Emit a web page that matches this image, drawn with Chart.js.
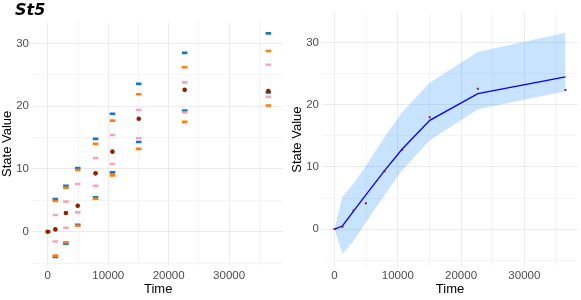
<!DOCTYPE html>
<html><head><meta charset="utf-8">
<script src="https://cdn.jsdelivr.net/npm/chart.js@4.4.1/dist/chart.umd.min.js"></script>
<style>
html,body{margin:0;padding:0;background:#fff;width:581px;height:300px;overflow:hidden;position:relative}
#title{position:absolute;left:15px;top:0px;font:italic bold 16px "DejaVu Sans";color:#000;line-height:19px}
#cl{position:absolute;left:0;top:0}
#cr{position:absolute;left:290px;top:0}
</style></head><body>
<canvas id="cl" width="290" height="300"></canvas>
<canvas id="cr" width="291" height="300"></canvas>
<div id="title">St5</div>
<script>
const times = [0, 1250, 3000, 4950, 7900, 10700, 15050, 22650, 36500];
const observed = [0, 0.37, 2.98, 4.15, 9.3, 12.76, 18.0, 22.6, 22.4];
const meanPred = [0, 0.5, 2.9, 5.5, 9.4, 12.9, 17.5, 21.8, 24.5];
const blueHi = [0, 5.2, 7.3, 10.15, 14.8, 18.8, 23.55, 28.5, 31.6];
const blueLo = [0, -4.0, -1.9, 1.1, 5.5, 9.46, 14.3, 19.3, 22.2];
const orangeHi = [0, 4.9, 7.0, 9.84, 14.0, 17.7, 21.9, 26.2, 28.8];
const orangeLo = [0, -3.8, -1.7, 0.95, 5.26, 8.98, 13.2, 17.5, 20.1];
const pinkHi = [0, 2.66, 4.8, 7.6, 11.75, 15.4, 19.4, 23.8, 26.6];
const pinkLo = [0, -1.55, 0.64, 3.08, 7.3, 10.8, 14.9, 19.0, 21.5];
const xTickLabels = [0, 10000, 20000, 30000];
const yTickLabels = [0, 10, 20, 30];

const pts = arr => times.map((t, i) => ({x: t, y: arr[i]}));
const FONT = '"Liberation Sans", Arial, sans-serif';

function gridTicks(lo, hi, step) {
  const out = [];
  for (let v = Math.ceil(lo / step) * step; v <= hi; v += step) out.push({value: v});
  return out;
}

function makeScales(xmin, xmax, ymin, ymax, yW, xH, xPad) {
  return {
    x: {
      type: 'linear', min: xmin, max: xmax,
      afterBuildTicks: s => { s.ticks = gridTicks(xmin, xmax, 5000); },
      afterFit: s => { s.height = xH; },
      grid: {drawTicks: false, lineWidth: 1,
        color: c => xTickLabels.includes(c.tick.value) ? '#EBEBEB' : '#F4F4F4'},
      border: {display: false},
      ticks: {autoSkip: false, maxRotation: 0, padding: xPad, color: '#4D4D4D',
        font: {family: FONT, size: 11.5},
        callback: v => xTickLabels.includes(v) ? String(v) : ''},
      title: {display: true, text: 'Time', color: '#000',
        font: {family: FONT, size: 13}, padding: {top: 0, bottom: 3}}
    },
    y: {
      type: 'linear', min: ymin, max: ymax,
      afterBuildTicks: s => { s.ticks = gridTicks(ymin, ymax, 5); },
      afterFit: s => { s.width = yW; },
      grid: {drawTicks: false, lineWidth: 1,
        color: c => yTickLabels.includes(c.tick.value) ? '#EBEBEB' : '#F4F4F4'},
      border: {display: false},
      ticks: {autoSkip: false, padding: 4, color: '#4D4D4D',
        font: {family: FONT, size: 11.5},
        callback: v => yTickLabels.includes(v) ? String(v) : ''},
      title: {display: true, text: 'State Value', color: '#000',
        font: {family: FONT, size: 13}, padding: {top: 0, bottom: 0}}
    }
  };
}

const dash = (data, color, order) => ({
  data: pts(data), order, pointStyle: 'line', pointRadius: 2.8,
  pointBorderColor: color, pointBorderWidth: 2.6, pointBackgroundColor: color,
  showLine: false
});

new Chart(document.getElementById('cl'), {
  type: 'scatter',
  data: {datasets: [
    {data: pts(observed), order: 0, pointStyle: 'circle', pointRadius: 2.3,
      pointBackgroundColor: '#8B2200', pointBorderWidth: 0, showLine: false},
    dash(pinkHi, '#F2A7BA', 1), dash(pinkLo, '#F2A7BA', 1),
    dash(orangeHi, '#FF7F0E', 2), dash(orangeLo, '#FF7F0E', 2),
    dash(blueHi, '#1F77B4', 3), dash(blueLo, '#1F77B4', 3)
  ]},
  options: {
    responsive: false, animation: false, events: [],
    layout: {padding: {left: 0, right: 2, top: 22.7, bottom: 0}},
    plugins: {legend: {display: false}, tooltip: {enabled: false}},
    scales: makeScales(-2450, 38990, -5.3, 33.3, 33, 35, 4)
  }
});

new Chart(document.getElementById('cr'), {
  type: 'line',
  data: {datasets: [
    {data: pts(observed), order: 0, showLine: false, pointStyle: 'rect',
      pointRadius: 1.4, pointBackgroundColor: '#8B1A1A', pointBorderWidth: 0},
    {data: pts(meanPred), order: 1, borderColor: '#0000FF', borderWidth: 1.3,
      pointRadius: 0, fill: false, tension: 0},
    {data: pts(blueHi), order: 2, borderWidth: 0, pointRadius: 0,
      backgroundColor: 'rgba(30,144,255,0.25)', fill: '+1', tension: 0},
    {data: pts(blueLo), order: 3, borderWidth: 0, pointRadius: 0, fill: false, tension: 0}
  ]},
  options: {
    responsive: false, animation: false, events: [],
    layout: {padding: {left: 0, right: 3, top: 12.3, bottom: 0}},
    plugins: {legend: {display: false}, tooltip: {enabled: false}},
    scales: makeScales(-1825, 38325, -6.1, 34.9, 33, 33, 2)
  }
});
</script>
</body></html>
